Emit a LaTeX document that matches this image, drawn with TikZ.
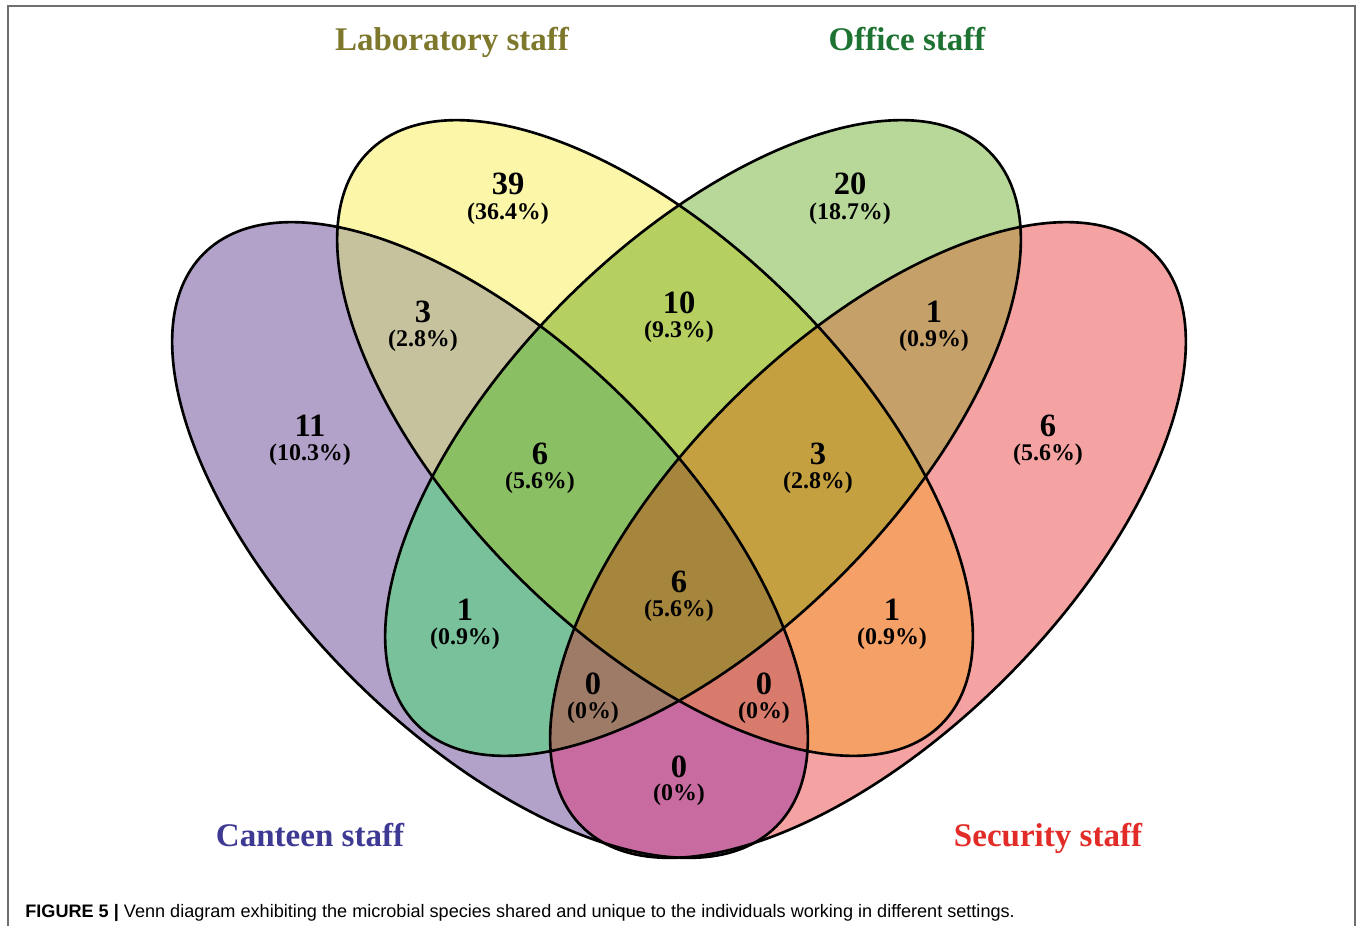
\documentclass[tikz,border=0pt]{standalone}
\usepackage{fontspec}
\setmainfont{Liberation Serif}
\newfontfamily\captionfont{Liberation Sans}
\usepackage{xcolor}

\definecolor{cantcol}{RGB}{178,162,202}
\definecolor{labcol}{RGB}{251,246,168}
\definecolor{offcol}{RGB}{184,216,153}
\definecolor{seccol}{RGB}{245,162,162}
\definecolor{cantlabcol}{RGB}{199,194,158}
\definecolor{cantoffcol}{RGB}{120,193,155}
\definecolor{cantseccol}{RGB}{200,107,160}
\definecolor{laboffcol}{RGB}{181,208,96}
\definecolor{labseccol}{RGB}{245,160,103}
\definecolor{offseccol}{RGB}{198,160,105}
\definecolor{cantlaboffcol}{RGB}{139,191,99}
\definecolor{cantlabseccol}{RGB}{216,123,108}
\definecolor{cantoffseccol}{RGB}{158,123,102}
\definecolor{laboffseccol}{RGB}{196,160,64}
\definecolor{allcol}{RGB}{166,134,61}
\definecolor{labtext}{RGB}{126,120,44}
\definecolor{offtext}{RGB}{30,115,50}
\definecolor{canttext}{RGB}{62,58,148}
\definecolor{sectext}{RGB}{226,44,40}
\definecolor{framecol}{RGB}{110,110,110}

\newcommand{\canteenset}[1]{\path[#1,rotate around={-45:(cant)}] (cant) ellipse [x radius=8.1cm,y radius=3.9cm];}
\newcommand{\labset}[1]{\path[#1,rotate around={-45:(lab)}] (lab) ellipse [x radius=8.1cm,y radius=3.9cm];}
\newcommand{\officeset}[1]{\path[#1,rotate around={45:(off)}] (off) ellipse [x radius=8.1cm,y radius=3.9cm];}
\newcommand{\securityset}[1]{\path[#1,rotate around={45:(sec)}] (sec) ellipse [x radius=8.1cm,y radius=3.9cm];}

\begin{document}
\begin{tikzpicture}[x=0.02cm,y=-0.02cm,
                num/.style={anchor=base,inner sep=0pt,font=\bfseries\fontsize{18.5}{20}\selectfont},
                pct/.style={anchor=base,inner sep=0pt,font=\bfseries\fontsize{13.6}{15}\selectfont},
                setname/.style={anchor=base,inner sep=0pt,font=\bfseries\fontsize{18.8}{20}\selectfont},
                outline/.style={draw=black,line width=1.5pt}]
    \useasboundingbox (0,0) rectangle (1358,926);
    \draw[framecol,line width=0.6pt] (8,926) -- (8,6) -- (1355,6) -- (1355,926);
    \coordinate (cant) at (490,540);
    \coordinate (lab) at (655,438);
    \coordinate (off) at (703,438);
    \coordinate (sec) at (868,540);

    \canteenset{fill=cantcol}
    \labset{fill=labcol}
    \officeset{fill=offcol}
    \securityset{fill=seccol}
    \begin{scope}\canteenset{clip}\labset{fill=cantlabcol}\end{scope}
    \begin{scope}\canteenset{clip}\officeset{fill=cantoffcol}\end{scope}
    \begin{scope}\canteenset{clip}\securityset{fill=cantseccol}\end{scope}
    \begin{scope}\labset{clip}\officeset{fill=laboffcol}\end{scope}
    \begin{scope}\labset{clip}\securityset{fill=labseccol}\end{scope}
    \begin{scope}\officeset{clip}\securityset{fill=offseccol}\end{scope}
    \begin{scope}\canteenset{clip}\labset{clip}\officeset{fill=cantlaboffcol}\end{scope}
    \begin{scope}\canteenset{clip}\labset{clip}\securityset{fill=cantlabseccol}\end{scope}
    \begin{scope}\canteenset{clip}\officeset{clip}\securityset{fill=cantoffseccol}\end{scope}
    \begin{scope}\labset{clip}\officeset{clip}\securityset{fill=laboffseccol}\end{scope}
    \begin{scope}\canteenset{clip}\labset{clip}\officeset{clip}\securityset{fill=allcol}\end{scope}
    \canteenset{outline}
    \labset{outline}
    \officeset{outline}
    \securityset{outline}

    \node[num] (lab-n) at (508,194) {39};
    \node[pct] (lab-p) at (508,219) {(36.4\%)};
    \node[num] (off-n) at (850,194) {20};
    \node[pct] (off-p) at (850,219) {(18.7\%)};
    \node[num] (cant-n) at (310,436) {11};
    \node[pct] (cant-p) at (310,460) {(10.3\%)};
    \node[num] (sec-n) at (1048,436) {6};
    \node[pct] (sec-p) at (1048,460) {(5.6\%)};
    \node[num] (cantlab-n) at (423,322) {3};
    \node[pct] (cantlab-p) at (423,346) {(2.8\%)};
    \node[num] (laboff-n) at (679,313) {10};
    \node[pct] (laboff-p) at (679,337) {(9.3\%)};
    \node[num] (offsec-n) at (934,322) {1};
    \node[pct] (offsec-p) at (934,346) {(0.9\%)};
    \node[num] (cantlaboff-n) at (540,464) {6};
    \node[pct] (cantlaboff-p) at (540,488) {(5.6\%)};
    \node[num] (laboffsec-n) at (818,464) {3};
    \node[pct] (laboffsec-p) at (818,488) {(2.8\%)};
    \node[num] (cantoff-n) at (465,620) {1};
    \node[pct] (cantoff-p) at (465,644) {(0.9\%)};
    \node[num] (all-n) at (679,592) {6};
    \node[pct] (all-p) at (679,616) {(5.6\%)};
    \node[num] (labsec-n) at (892,620) {1};
    \node[pct] (labsec-p) at (892,644) {(0.9\%)};
    \node[num] (cantoffsec-n) at (593,694) {0};
    \node[pct] (cantoffsec-p) at (593,718) {(0\%)};
    \node[num] (cantlabsec-n) at (764,694) {0};
    \node[pct] (cantlabsec-p) at (764,718) {(0\%)};
    \node[num] (cantsec-n) at (679,777) {0};
    \node[pct] (cantsec-p) at (679,800) {(0\%)};

    \node[setname,text=labtext] (lab-title) at (452,51) {Laboratory staff};
    \node[setname,text=offtext] (off-title) at (907,51) {Office staff};
    \node[setname,text=canttext] (cant-title) at (310,846) {Canteen staff};
    \node[setname,text=sectext] (sec-title) at (1048,846) {Security staff};

    \node[anchor=base west,inner sep=0pt,font=\captionfont\fontsize{10.3}{12}\selectfont] (caption) at (25,917)
        {\textbf{FIGURE 5 |} Venn diagram exhibiting the microbial species shared and unique to the individuals working in different settings.};
\end{tikzpicture}
\end{document}
